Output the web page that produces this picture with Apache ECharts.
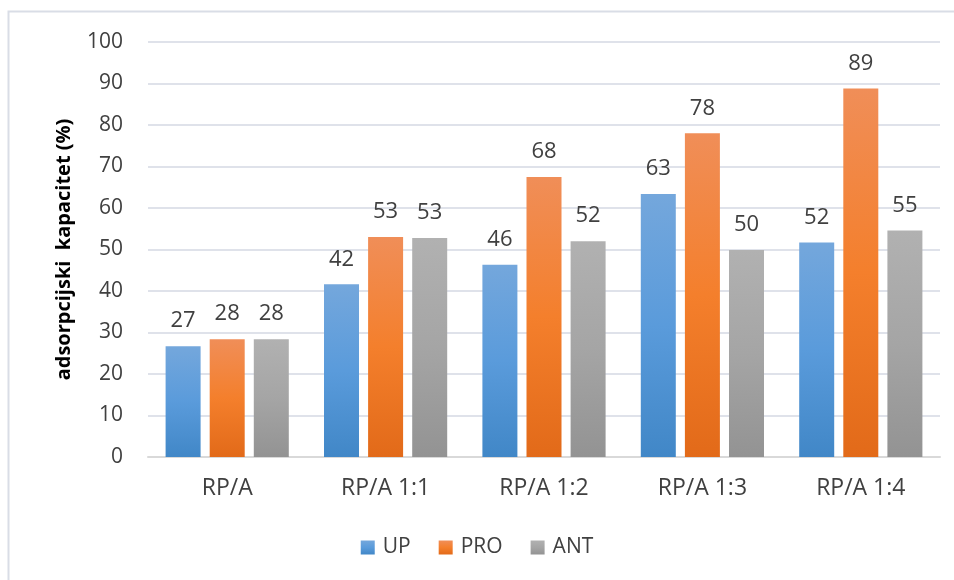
<!DOCTYPE html>
<html>
<head>
<meta charset="utf-8">
<script src="https://cdn.jsdelivr.net/npm/echarts@6/dist/echarts.min.js"></script>
<style>
  html, body { margin: 0; padding: 0; background: #fff; }
  #chart { width: 954px; height: 580px; }
</style>
</head>
<body>
<div id="chart"></div>
<script>
const categories = ['RP/A', 'RP/A 1:1', 'RP/A 1:2', 'RP/A 1:3', 'RP/A 1:4']
const upValues = [26.7, 41.6, 46.3, 63.4, 51.7]
const proValues = [28.4, 53.0, 67.5, 78.0, 88.8]
const antValues = [28.4, 52.8, 52.0, 49.9, 54.6]
const yTicks = [0, 10, 20, 30, 40, 50, 60, 70, 80, 90, 100]

const font = '"Open Sans", "Noto Sans", sans-serif'

function grad (top, mid, bottom) {
  return new echarts.graphic.LinearGradient(0, 0, 0, 1, [
    { offset: 0, color: top },
    { offset: 0.5, color: mid },
    { offset: 1, color: bottom }
  ])
}

function makeSeries (name, data, color) {
  return {
    name: name,
    type: 'bar',
    data: data,
    barWidth: 35,
    barGap: '26%',
    itemStyle: { color: color },
    label: {
      show: true,
      position: 'top',
      distance: 14,
      color: '#404040',
      fontSize: 22,
      fontFamily: font,
      formatter: p => Math.round(p.value)
    }
  }
}

const chart = echarts.init(document.getElementById('chart'))
const option = {
  animation: false,
  graphic: [{
    type: 'rect',
    shape: { x: 8.5, y: 11.5, width: 960, height: 590 },
    style: { fill: 'none', stroke: '#d9dde6', lineWidth: 2 },
    silent: true
  }],
  legend: {
    bottom: 17,
    left: 'center',
    itemWidth: 14,
    itemHeight: 14,
    itemGap: 28,
    icon: 'rect',
    textStyle: { color: '#404040', fontSize: 21, fontFamily: font, padding: [0, 0, 0, 3] },
    data: ['UP', 'PRO', 'ANT']
  },
  grid: { left: 148, right: 14, top: 42, bottom: 123 },
  xAxis: {
    type: 'category',
    data: categories,
    axisTick: { show: false },
    axisLine: { lineStyle: { color: '#d9d9d9', width: 2 } },
    axisLabel: { color: '#404040', fontSize: 23, fontFamily: font, margin: 20 }
  },
  yAxis: {
    type: 'value',
    min: yTicks[0],
    max: yTicks[yTicks.length - 1],
    interval: 10,
    name: 'adsorpcijski  kapacitet (%)',
    nameLocation: 'middle',
    nameGap: 74,
    nameTextStyle: { color: '#000', fontSize: 20, fontWeight: 'bold', fontFamily: font },
    axisLine: { show: false },
    axisTick: { show: false },
    axisLabel: { color: '#404040', fontSize: 21, fontFamily: font, margin: 25 },
    splitLine: { lineStyle: { color: '#dfe2ea', width: 2 } }
  },
  series: [
    makeSeries('UP', upValues, grad('#74a7dc', '#5a9bdb', '#4187c7')),
    makeSeries('PRO', proValues, grad('#f08e58', '#f47f2c', '#e26a19')),
    makeSeries('ANT', antValues, grad('#b1b1b1', '#a5a5a5', '#939393'))
  ]
}
chart.setOption(option)
</script>
</body>
</html>
